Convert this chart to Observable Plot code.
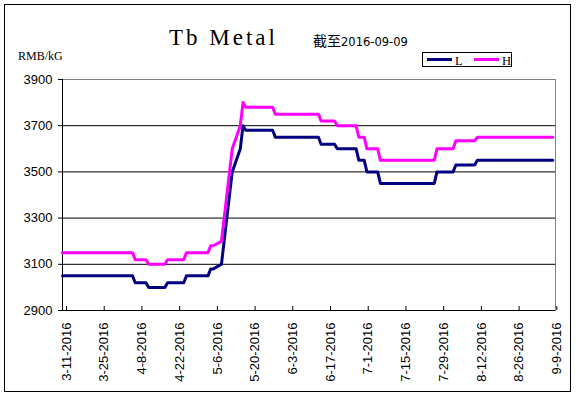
<!DOCTYPE html>
<html>
<head>
<meta charset="utf-8">
<script src="https://cdn.jsdelivr.net/npm/d3@7"></script>
<script src="https://cdn.jsdelivr.net/npm/@observablehq/plot@0.6"></script>
<style>
  html, body { margin: 0; padding: 0; background: #fff; }
  #wrap { position: relative; width: 576px; height: 396px; overflow: hidden; background: #fff; }
  #wrap > svg { position: absolute; left: 0; top: 0; }
  .abs { position: absolute; white-space: nowrap; line-height: 1; color: #000; }
  #border { position: absolute; left: 4px; top: 4px; width: 567px; height: 388px; border: 1px solid #000; box-sizing: border-box; pointer-events: none; }
  #title { left: 169px; top: 26px; font-family: "Liberation Serif", serif; font-size: 23px; letter-spacing: 3px; }
  #sub { left: 313px; top: 33px; }
  #sub .cjk { font-family: "Noto Sans CJK SC", sans-serif; font-size: 14px; }
  #sub .num { font-family: "DejaVu Sans", sans-serif; font-size: 11.5px; }
  #unit { left: 18px; top: 50px; font-family: "Liberation Serif", serif; font-size: 12px; }
  #legend { position: absolute; left: 422px; top: 52px; width: 90px; height: 15px; border: 1px solid #000; box-sizing: border-box; background: #fff; }
  .sw { position: absolute; top: 5px; width: 25px; height: 3px; }
  .lt { position: absolute; top: 2px; font-family: "Liberation Serif", serif; font-size: 12.5px; line-height: 1; }
</style>
</head>
<body>
<div id="wrap"></div>
<script>
// ---- data ----
const titleText = "Tb Metal";
const subCjk = "截至";
const subDate = "2016-09-09";
const unitText = "RMB/kG";
const seriesNames = ["L", "H"];
const seriesColors = ["#000080", "#FF00FF"];

const dates = [
  "2016-03-11","2016-04-06","2016-04-07","2016-04-11","2016-04-12","2016-04-18","2016-04-19",
  "2016-04-25","2016-04-26","2016-05-04","2016-05-05","2016-05-06","2016-05-09","2016-05-13",
  "2016-05-16","2016-05-17","2016-05-18","2016-05-28","2016-05-29","2016-06-14","2016-06-15",
  "2016-06-20","2016-06-21","2016-06-28","2016-06-29","2016-07-01","2016-07-02","2016-07-06",
  "2016-07-07","2016-07-27","2016-07-28","2016-08-03","2016-08-04","2016-08-11","2016-08-12",
  "2016-09-09"
];
const lowValues = [
  3050,3050,3020,3020,3000,3000,3020,
  3020,3050,3050,3080,3080,3100,3500,
  3600,3700,3680,3680,3650,3650,3620,
  3620,3600,3600,3550,3550,3500,3500,
  3450,3450,3500,3500,3530,3530,3550,
  3550
];
const highValues = [
  3150,3150,3120,3120,3100,3100,3120,
  3120,3150,3150,3180,3180,3200,3600,
  3700,3800,3780,3780,3750,3750,3720,
  3720,3700,3700,3650,3650,3600,3600,
  3550,3550,3600,3600,3635,3635,3650,
  3650
];

const xTickLabels = ["3-11-2016","3-25-2016","4-8-2016","4-22-2016","5-6-2016","5-20-2016","6-3-2016",
  "6-17-2016","7-1-2016","7-15-2016","7-29-2016","8-12-2016","8-26-2016","9-9-2016"];
const xDomainText = ["2016-03-11", "2016-09-10"];
const yTicks = [2900, 3100, 3300, 3500, 3700, 3900];
const gridValues = [3100, 3300, 3500, 3700];
const yDomain = [2900, 3900];

// ---- build ----
const parseTick = d3.utcParse("%m-%d-%Y");
const tickDates = xTickLabels.map(parseTick);
const xDomain = xDomainText.map(s => new Date(s));
const rows = dates.map((d, i) => ({date: new Date(d), L: lowValues[i], H: highValues[i]}));
const fmt = d3.utcFormat("%-m-%-d-%Y");

const chart = Plot.plot({
  width: 576,
  height: 396,
  marginTop: 79,
  marginBottom: 86,
  marginLeft: 62,
  marginRight: 21,
  style: {fontFamily: "Liberation Sans, sans-serif", fontSize: "13px", background: "transparent", color: "#000", overflow: "visible"},
  x: {type: "utc", domain: xDomain},
  y: {domain: yDomain},
  marks: [
    Plot.frame({stroke: "#808080"}),
    Plot.ruleY(gridValues, {stroke: "#000"}),
    Plot.ruleY([yDomain[0]], {stroke: "#000"}),
    Plot.ruleX([xDomain[0]], {stroke: "#000"}),
    Plot.axisY(yTicks, {tickSize: 4, tickPadding: 6, tickFormat: d => String(d), label: null, fontSize: 13}),
    Plot.axisX(tickDates, {tickSize: -4, tickPadding: 16, tickRotate: -90, textAnchor: "end", tickFormat: fmt, label: null, fontSize: 13, dx: 4}),
    Plot.line(rows, {x: "date", y: "L", stroke: seriesColors[0], strokeWidth: 3}),
    Plot.line(rows, {x: "date", y: "H", stroke: seriesColors[1], strokeWidth: 3})
  ]
});

const wrap = document.getElementById("wrap");
wrap.appendChild(chart);

function addDiv(id, cls, html) {
  const el = document.createElement("div");
  if (id) el.id = id;
  if (cls) el.className = cls;
  el.innerHTML = html;
  wrap.appendChild(el);
  return el;
}
addDiv("border", "", "");
addDiv("title", "abs", titleText);
const sub = addDiv("sub", "abs", "");
const s1 = document.createElement("span"); s1.className = "cjk"; s1.textContent = subCjk; sub.appendChild(s1);
const s2 = document.createElement("span"); s2.className = "num"; s2.textContent = subDate; sub.appendChild(s2);
addDiv("unit", "abs", unitText);

const legend = addDiv("legend", "", "");
const legendPos = [[4, 32], [51, 79]];
seriesNames.forEach((name, i) => {
  const sw = document.createElement("div");
  sw.className = "sw";
  sw.style.left = legendPos[i][0] + "px";
  sw.style.background = seriesColors[i];
  legend.appendChild(sw);
  const t = document.createElement("div");
  t.className = "lt";
  t.style.left = legendPos[i][1] + "px";
  t.textContent = name;
  legend.appendChild(t);
});
</script>
</body>
</html>
